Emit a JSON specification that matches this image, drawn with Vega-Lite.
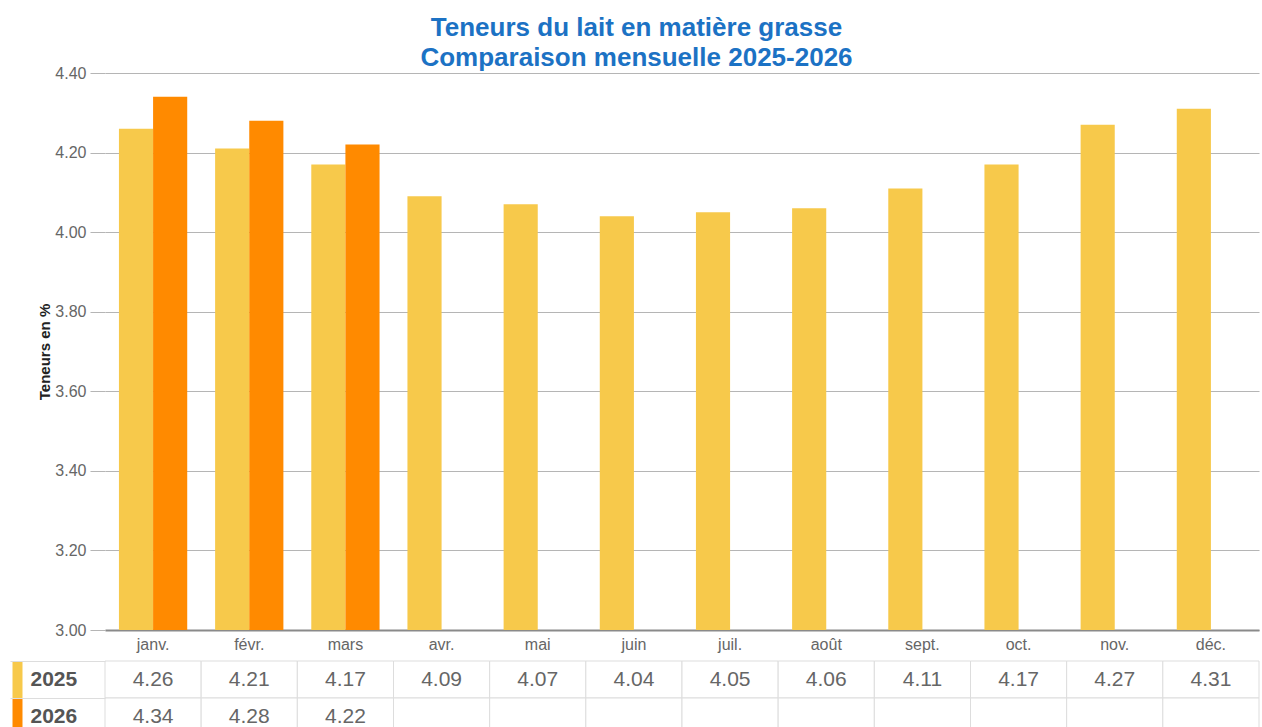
{
  "$schema": "https://vega.github.io/schema/vega-lite/v6.json",
  "padding": {"left": -7, "top": 15, "right": 0, "bottom": 0},
  "background": "white",
  "title": {
    "text": ["Teneurs du lait en matière grasse", "Comparaison mensuelle 2025-2026"],
    "font": "Liberation Sans, sans-serif",
    "fontSize": 26,
    "fontWeight": "bold",
    "color": "#1C72C4",
    "lineHeight": 30,
    "anchor": "middle",
    "dx": 10,
    "offset": -6
  },
  "data": {
    "values": [
      {"month": "janv.", "year": "2025", "value": 4.26},
      {"month": "févr.", "year": "2025", "value": 4.21},
      {"month": "mars", "year": "2025", "value": 4.17},
      {"month": "avr.", "year": "2025", "value": 4.09},
      {"month": "mai", "year": "2025", "value": 4.07},
      {"month": "juin", "year": "2025", "value": 4.04},
      {"month": "juil.", "year": "2025", "value": 4.05},
      {"month": "août", "year": "2025", "value": 4.06},
      {"month": "sept.", "year": "2025", "value": 4.11},
      {"month": "oct.", "year": "2025", "value": 4.17},
      {"month": "nov.", "year": "2025", "value": 4.27},
      {"month": "déc.", "year": "2025", "value": 4.31},
      {"month": "janv.", "year": "2026", "value": 4.34},
      {"month": "févr.", "year": "2026", "value": 4.28},
      {"month": "mars", "year": "2026", "value": 4.22},
      {"month": "avr.", "year": "2026", "value": null},
      {"month": "mai", "year": "2026", "value": null},
      {"month": "juin", "year": "2026", "value": null},
      {"month": "juil.", "year": "2026", "value": null},
      {"month": "août", "year": "2026", "value": null},
      {"month": "sept.", "year": "2026", "value": null},
      {"month": "oct.", "year": "2026", "value": null},
      {"month": "nov.", "year": "2026", "value": null},
      {"month": "déc.", "year": "2026", "value": null}
    ]
  },
  "config": {
    "view": {"stroke": null},
    "font": "Liberation Sans, sans-serif"
  },
  "resolve": {"scale": {"x": "independent", "y": "independent"}},
  "spacing": 8,
  "vconcat": [
    {
      "width": 1154,
      "height": 557,
      "mark": {"type": "bar"},
      "encoding": {
        "x": {
          "field": "month",
          "type": "nominal",
          "sort": null,
          "scale": {"paddingInner": 0.29, "paddingOuter": 0.145},
          "axis": {
            "title": null,
            "labelAngle": 0,
            "labelColor": "#666666",
            "labelFontSize": 16,
            "labelPadding": 6,
            "ticks": false,
            "domainColor": "#8a8a8a",
            "domainWidth": 2,
            "grid": false
          }
        },
        "xOffset": {"field": "year", "type": "nominal", "scale": {"domain": ["2025", "2026"]}},
        "y": {
          "field": "value",
          "type": "quantitative",
          "scale": {"domain": [3.0, 4.4], "zero": false, "nice": false, "clamp": true},
          "axis": {
            "title": "Teneurs en %",
            "titleFontSize": 15,
            "titleFontWeight": "bold",
            "titleColor": "#222222",
            "titlePadding": 2,
            "values": [3.0, 3.2, 3.4, 3.6, 3.8, 4.0, 4.2, 4.4],
            "format": ".2f",
            "labelColor": "#666666",
            "labelFontSize": 16,
            "labelPadding": 4,
            "tickSize": 15,
            "tickColor": "#b5b5b5",
            "gridColor": "#b5b5b5",
            "domain": false
          }
        },
        "color": {
          "field": "year",
          "type": "nominal",
          "scale": {"domain": ["2025", "2026"], "range": ["#F7C94B", "#FF8A00"]},
          "legend": null
        }
      }
    },
    {
      "width": 1154,
      "height": 74,
      "encoding": {
        "x": {
          "field": "month",
          "type": "nominal",
          "sort": null,
          "scale": {"paddingInner": 0, "paddingOuter": 0},
          "axis": null
        }
      },
      "resolve": {"axis": {"y": "independent"}},
      "layer": [
        {
          "mark": {"type": "rect", "fill": "white", "stroke": "#dddddd", "strokeWidth": 1},
          "encoding": {
            "y": {
              "field": "year",
              "type": "nominal",
              "scale": {"domain": ["2025", "2026"], "paddingInner": 0, "paddingOuter": 0},
              "axis": {
                "orient": "left",
                "title": null,
                "tickBand": "extent",
                "tickSize": 95,
                "tickColor": "#dddddd",
                "tickWidth": 1,
                "labels": false,
                "domain": false,
                "grid": false
              }
            }
          }
        },
        {
          "transform": [{"filter": "datum.value != null"}],
          "mark": {"type": "text", "fontSize": 21, "color": "#666666"},
          "encoding": {
            "y": {
              "field": "year",
              "type": "nominal",
              "axis": {
                "orient": "left",
                "title": null,
                "offset": 83,
                "tickSize": 10,
                "tickWidth": 37,
                "tickCap": "butt",
                "tickColor": {"condition": {"test": "datum.value === '2025'", "value": "#F7C94B"}, "value": "#FF8A00"},
                "labelAlign": "left",
                "labelPadding": -18,
                "labelFontSize": 21,
                "labelFontWeight": "bold",
                "labelColor": "#555555",
                "domain": false,
                "grid": false
              }
            },
            "text": {"field": "value", "type": "quantitative", "format": ".2f"}
          }
        }
      ]
    }
  ]
}
